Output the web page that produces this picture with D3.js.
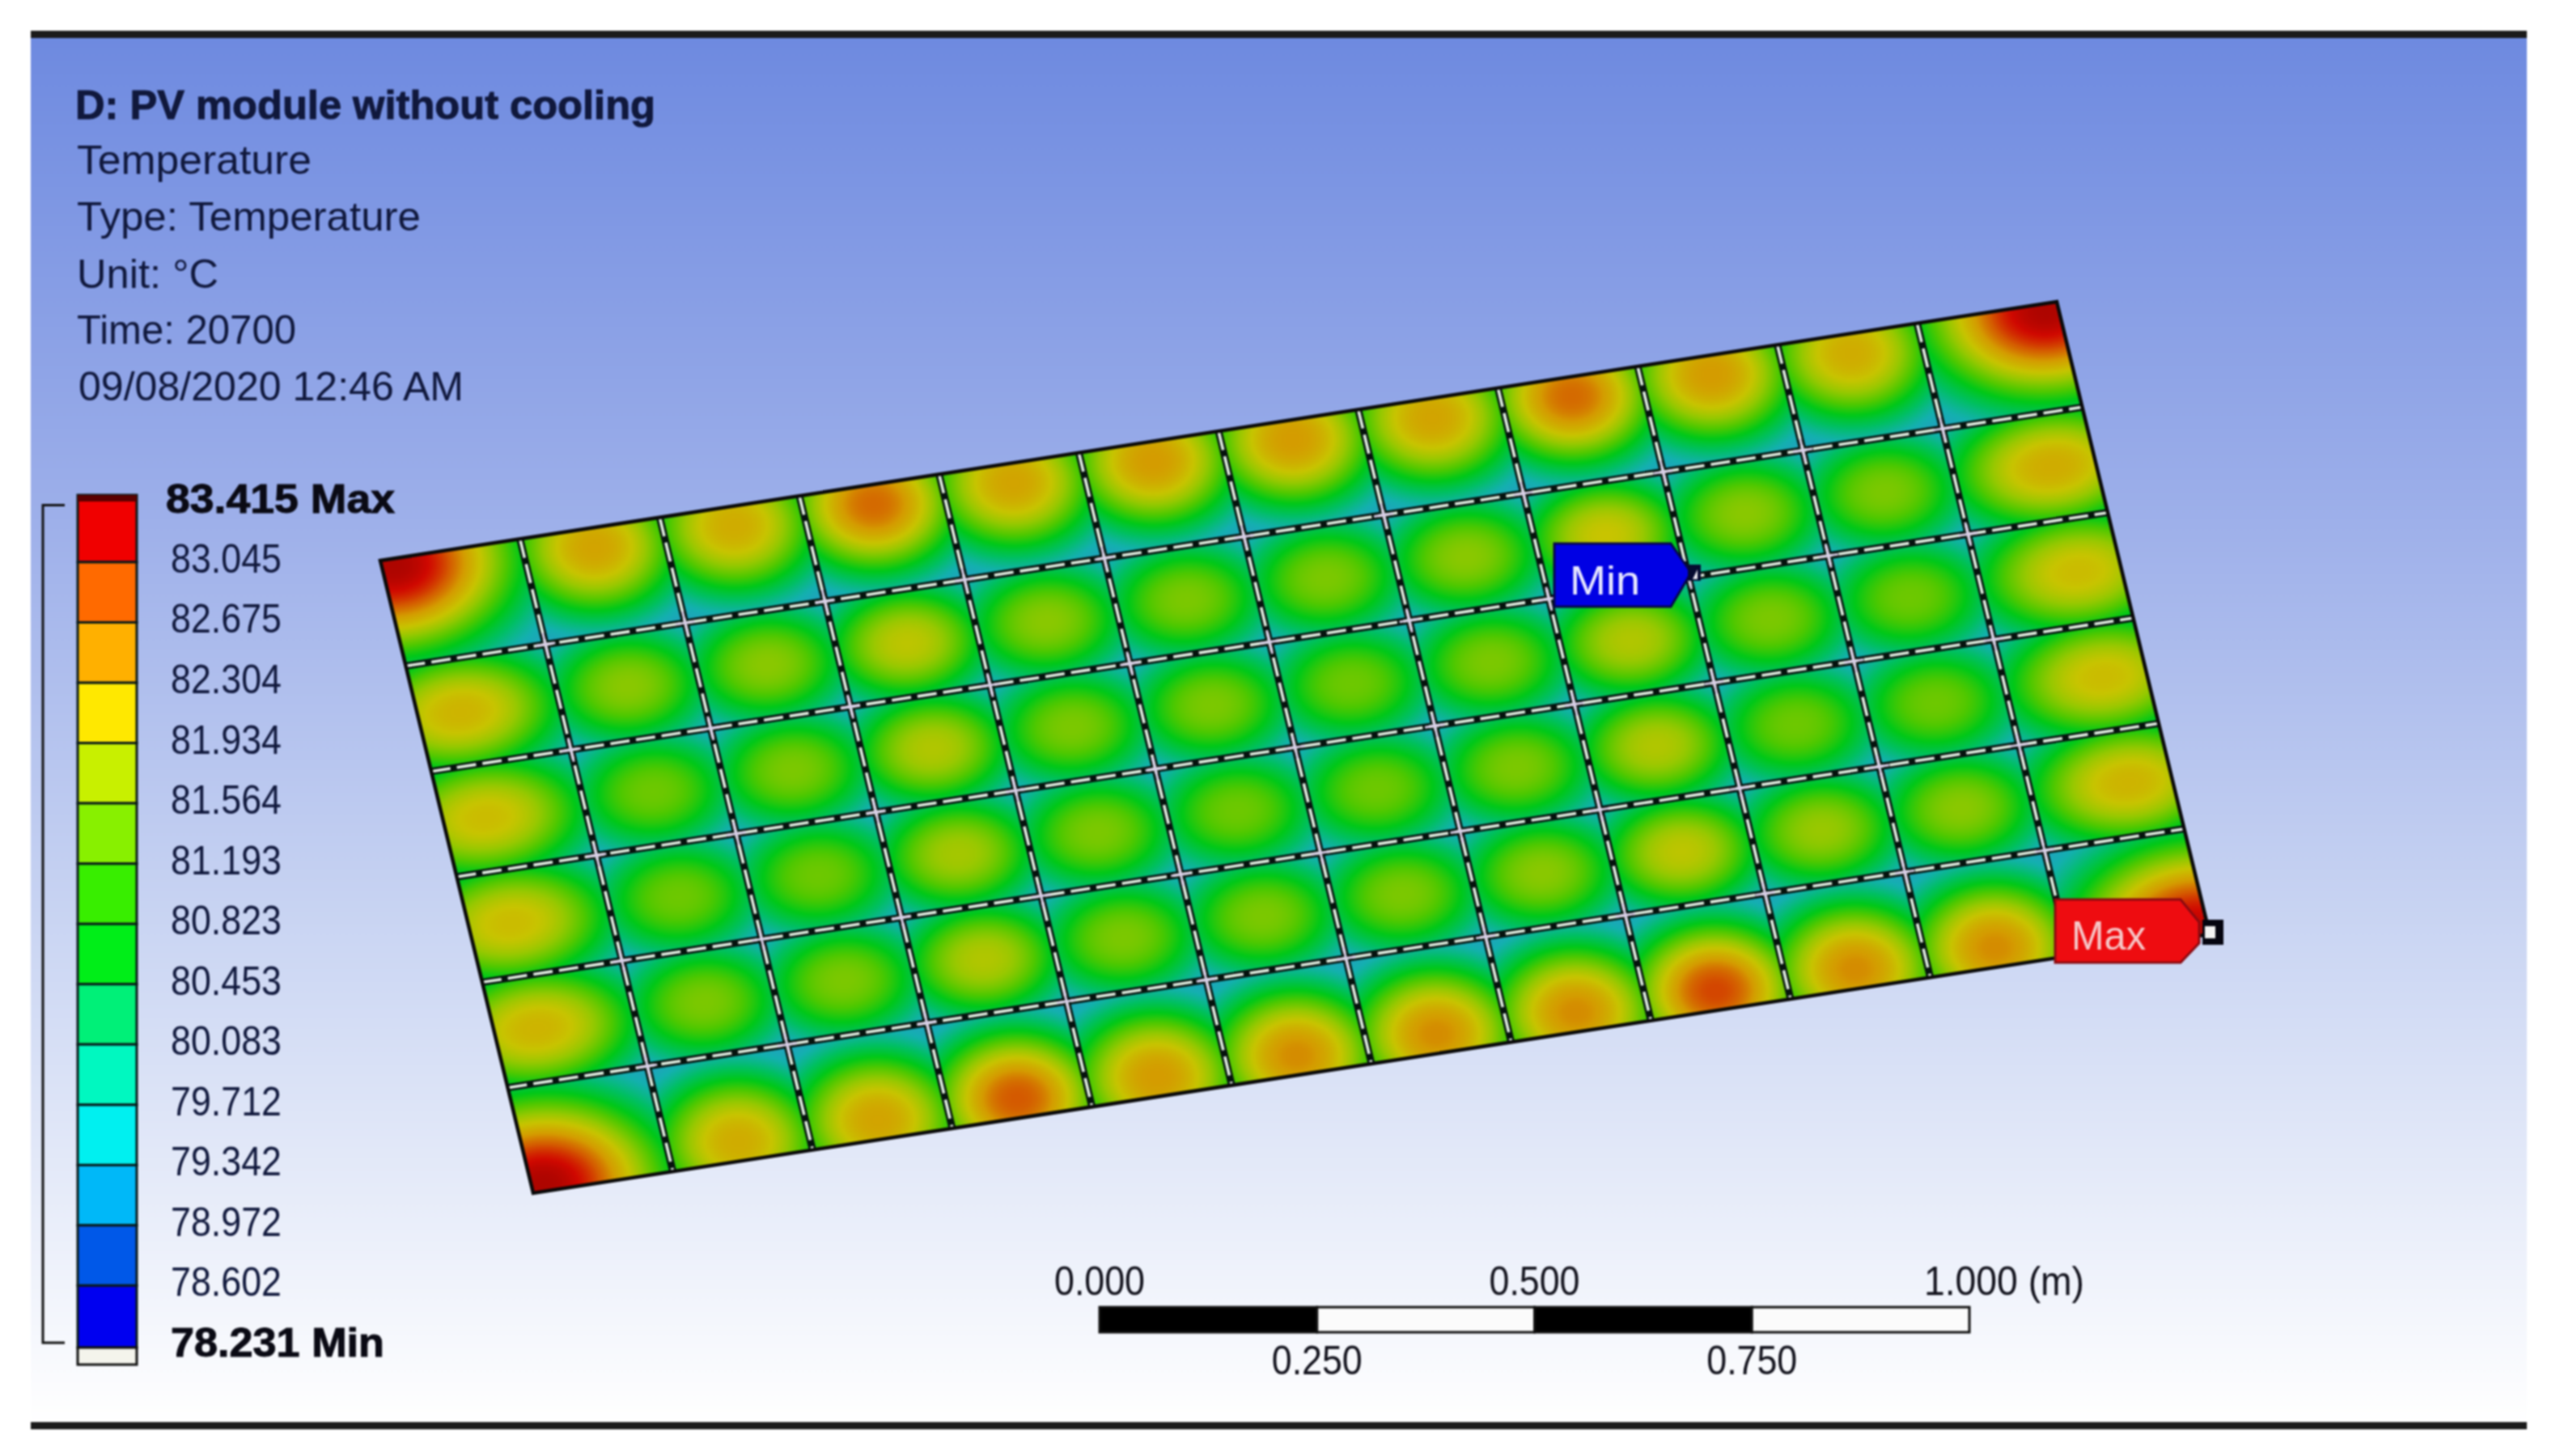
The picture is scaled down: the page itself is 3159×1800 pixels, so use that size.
<!DOCTYPE html>
<html><head><meta charset="utf-8">
<script src="https://cdn.jsdelivr.net/npm/d3@7"></script>
<style>html,body{margin:0;padding:0;background:#fff}svg{display:block;filter:blur(0.9px)}text{font-family:"Liberation Sans",Arial,sans-serif}</style>
</head><body><div id="chart"></div>
<script>
// ---- data ----
const headerLines = ["D: PV module without cooling","Temperature","Type: Temperature","Unit: °C","Time: 20700","09/08/2020 12:46 AM"];
const legendValues = [83.415,83.045,82.675,82.304,81.934,81.564,81.193,80.823,80.453,80.083,79.712,79.342,78.972,78.602,78.231];
const legendColors = ["#f00000","#ff6a00","#ffb000","#ffe800","#c8f000","#88f000","#38ee00","#00ee18","#00f078","#00f8c0","#00f0f0","#00b8f8","#0058e8","#0000f0"];
const scaleTicks = [0,0.25,0.5,0.75,1];
const scaleLabels = ["0.000","0.250","0.500","0.750","1.000"];
// peak temperature of each panel, top row first, 12 panels across
const panelPeaks = [
 [83.6,82.5,82.4,82.9,82.5,82.6,82.6,82.5,82.9,82.6,82.4,83.6],
 [82.3,81.6,81.6,82.0,81.6,81.5,81.5,81.6,82.1,81.6,81.5,82.4],
 [82.2,81.4,81.5,81.9,81.5,81.5,81.4,81.5,81.9,81.5,81.4,82.2],
 [82.2,81.4,81.4,81.8,81.5,81.4,81.4,81.5,81.9,81.4,81.4,82.2],
 [82.3,81.5,81.5,81.9,81.5,81.5,81.5,81.6,82.0,81.7,81.6,82.3],
 [83.6,82.4,82.5,83.0,82.6,82.7,82.7,82.7,83.1,82.7,82.7,83.5]
];
const fieldStops = [78.6,79.2,79.7,80.2,80.7,81.2,81.7,82.1,82.6,83.0,83.4,83.9];
const fieldColors = ["#2a70c8","#2a98c8","#14b0b0","#00c060","#00c818","#50c800","#98c800","#c8c400","#d49c00","#d45a00","#d00800","#7a0000"];
// ---- layout ----
const W=3159,H=1800,imgL=38,imgR=3123,barTop=38,barBot=1767,nCols=12,nRows=6;
const TL=[470,693],TR=[2542,373],BL=[659,1475];
const svg=d3.select("#chart").append("svg").attr("width",W).attr("height",H);
const defs=svg.append("defs");
const bg=defs.append("linearGradient").attr("id","bg").attr("x1",0).attr("x2",0).attr("y1",0).attr("y2",1);
bg.append("stop").attr("offset",0).attr("stop-color","rgb(110,138,224)");
bg.append("stop").attr("offset",0.35).attr("stop-color","rgb(158,176,234)");
bg.append("stop").attr("offset",0.65).attr("stop-color","rgb(203,214,243)");
bg.append("stop").attr("offset",1).attr("stop-color","#fff");
svg.append("rect").attr("x",imgL).attr("y",47).attr("width",imgR-imgL).attr("height",1711).attr("fill","url(#bg)");
svg.append("rect").attr("x",imgL).attr("y",barTop).attr("width",imgR-imgL).attr("height",9).attr("fill","#1b1b1b");
svg.append("rect").attr("x",imgL).attr("y",1758).attr("width",imgR-imgL).attr("height",9).attr("fill","#1b1b1b");

// header
const ink="#10183c";
const headY=[147,215,285,356,425,495],headW=[717,290,425,175,271,476],headX=[93,95,95,95,95,97];
svg.append("g").selectAll("text").data(headerLines).join("text")
 .attr("x",(d,i)=>headX[i]).attr("y",(d,i)=>headY[i])
 .attr("font-size",50).attr("font-weight",(d,i)=>i?400:700).attr("fill",ink)
 .attr("stroke",(d,i)=>i?"none":ink).attr("stroke-width",1)
 .attr("textLength",(d,i)=>headW[i]).attr("lengthAdjust","spacingAndGlyphs").text(d=>d);

// field
const uX=d3.scaleLinear([0,nCols],[0,TR[0]-TL[0]]),uY=d3.scaleLinear([0,nCols],[0,TR[1]-TL[1]]);
const vX=d3.scaleLinear([0,nRows],[0,BL[0]-TL[0]]),vY=d3.scaleLinear([0,nRows],[0,BL[1]-TL[1]]);
const px=(u,v)=>[TL[0]+uX(u)+vX(v),TL[1]+uY(u)+vY(v)];
const colour=d3.scaleLinear(fieldStops,fieldColors).clamp(true);
const lut=d3.range(1024).map(i=>d3.rgb(colour(78.5+i/1023*5.6)));
const x0=460,y0=365,x1=2745,y1=1485,res=2;
const cv=document.createElement("canvas");cv.width=Math.ceil((x1-x0)/res);cv.height=Math.ceil((y1-y0)/res);
const ctx=cv.getContext("2d"),im=ctx.createImageData(cv.width,cv.height);
const ax=uX(1),ay=uY(1),bx=vX(1),by=vY(1),det=ax*by-ay*bx;
const base=79.1;
for(let j=0;j<cv.height;j++)for(let i=0;i<cv.width;i++){
 const X=x0+(i+.5)*res-TL[0],Y=y0+(j+.5)*res-TL[1];
 const u=(X*by-Y*bx)/det,v=(Y*ax-X*ay)/det;
 if(u<0||v<0||u>=nCols||v>=nRows)continue;
 const c=Math.floor(u),r=Math.floor(v),du=u-c-.5,dv=v-r-.5;
 const eu=c==0?-1:c==nCols-1?1:0,ev=r==0?-1:r==nRows-1?1:0;
 let sx=0,sy=0,a=.52,b=.48,T;
 if(eu&&ev){sx=eu*.42;sy=ev*.44;a=.78;b=.74;}
 else if(ev){sy=ev*.32;a=.54;b=.58;}
 else if(eu){sx=eu*.2;a=.66;b=.52;}
 const d2=((du-sx)/a)**2+((dv-sy)/b)**2;
 T=base+(panelPeaks[r][c]-base)*Math.exp(-.72*Math.pow(d2,1.2));
 const col=lut[Math.max(0,Math.min(1023,Math.round((T-78.5)/5.6*1023)))],k=(j*cv.width+i)*4;
 im.data[k]=col.r;im.data[k+1]=col.g;im.data[k+2]=col.b;im.data[k+3]=255;
}
ctx.putImageData(im,0,0);
svg.append("image").attr("x",x0).attr("y",y0).attr("width",x1-x0).attr("height",y1-y0)
 .attr("preserveAspectRatio","none").attr("href",cv.toDataURL());

// panel joints
const line=d3.line();
const joints=[];
d3.range(1,nCols).forEach(c=>joints.push([px(c,0),px(c,nRows)]));
d3.range(1,nRows).forEach(r=>joints.push([px(0,r),px(nCols,r)]));
const gJ=svg.append("g").attr("fill","none");
gJ.selectAll(".o").data(joints).join("path").attr("d",line).attr("stroke","#06130e").attr("stroke-width",9);
gJ.selectAll(".i").data(joints).join("path").attr("d",line).attr("stroke","#e2efe2").attr("stroke-width",3.6).attr("stroke-dasharray","24 8");
// joint crossings
const crossings=d3.cross(d3.range(1,nCols),d3.range(1,nRows));
const gC=svg.append("g").attr("stroke","#d9cfe8").attr("stroke-width",3).attr("fill","none");
gC.selectAll("path").data(crossings).join("path").attr("d",([c,r])=>{
 const e=.07;return line([px(c-e,r),px(c+e,r)])+line([px(c,r-e*1.6),px(c,r+e*1.6)]);});
// outline
svg.append("path").attr("d",line([px(0,0),px(nCols,0),px(nCols,nRows),px(0,nRows)])+"Z").attr("fill","none").attr("stroke","#0a0a0a").attr("stroke-width",4.5);

// legend
const ly=d3.scaleLinear([83.415,78.231],[616.5,1660]);
const legendX=96,legendW=73,off=4;
const gL=svg.append("g");
const segs=legendColors.map((c,i)=>({c,top:i?ly(legendValues[i])+off:612,bot:ly(legendValues[i+1])+off+(i==13?2:0)}));
gL.selectAll("rect.s").data(segs).join("rect").attr("class","s").attr("x",legendX).attr("width",legendW)
 .attr("y",d=>d.top).attr("height",d=>d.bot-d.top).attr("fill",d=>d.c).attr("stroke","#0a1a1a").attr("stroke-width",3);
gL.append("rect").attr("x",legendX).attr("y",612).attr("width",legendW).attr("height",8).attr("fill","#5a0000");
gL.append("rect").attr("x",legendX).attr("y",1666).attr("width",legendW).attr("height",21).attr("fill","#f4f4ec").attr("stroke","#111").attr("stroke-width",3);
gL.append("path").attr("d",line([[80,ly(83.415)+8],[53,ly(83.415)+8],[53,ly(78.231)],[80,ly(78.231)]])).attr("fill","none").attr("stroke","#111").attr("stroke-width",3);
gL.selectAll("text").data(legendValues).join("text")
 .attr("x",(d,i)=>i==0?205:211).attr("y",d=>ly(d)+17).attr("font-size",50)
 .attr("font-weight",(d,i)=>(i==0||i==14)?700:400).attr("fill",(d,i)=>(i==0||i==14)?"#0a0a14":ink)
 .attr("stroke",(d,i)=>(i==0||i==14)?"#0a0a14":"none").attr("stroke-width",1)
 .attr("textLength",(d,i)=>i==0?283:i==14?264:137).attr("lengthAdjust","spacingAndGlyphs")
 .text((d,i)=>d.toFixed(3)+(i==0?" Max":i==14?" Min":""));

// probes
const gP=svg.append("g");
gP.append("path").attr("d","M1921,672H2065L2090,708L2065,750H1921Z").attr("fill","#0000e4").attr("stroke","#06064a").attr("stroke-width",3);
gP.append("rect").attr("x",2086).attr("y",698).attr("width",16).attr("height",20).attr("fill","#050a30");
gP.append("path").attr("d","M2092,716L2098,704L2098,716Z").attr("fill","#e8e8f0");
gP.append("text").attr("x",1940).attr("y",735).attr("font-size",50).attr("fill","#e8e8ff").attr("textLength",87).attr("lengthAdjust","spacingAndGlyphs").text("Min");
gP.append("path").attr("d","M2540,1112H2695L2718,1140L2718,1166L2695,1190H2540Z").attr("fill","#ee0c10").attr("stroke","#8a0a10").attr("stroke-width",3);
gP.append("rect").attr("x",2722).attr("y",1137).attr("width",26).attr("height",31).attr("fill","#050510");
gP.append("rect").attr("x",2725).attr("y",1145).attr("width",13).attr("height",15).attr("fill","#f2f2f2");
gP.append("text").attr("x",2560).attr("y",1174).attr("font-size",50).attr("fill","#f6c8c8").attr("textLength",92).attr("lengthAdjust","spacingAndGlyphs").text("Max");

// scale bar
const sb=d3.scaleLinear([0,1],[1359,2434]);
const gS=svg.append("g");
gS.selectAll("rect").data(d3.pairs(scaleTicks)).join("rect")
 .attr("x",d=>sb(d[0])).attr("y",1616).attr("width",d=>sb(d[1])-sb(d[0])).attr("height",31)
 .attr("fill",(d,i)=>i%2?"#fbfbfb":"#000").attr("stroke","#111").attr("stroke-width",3);
gS.selectAll("text").data(scaleTicks).join("text")
 .attr("x",d=>sb(d)).attr("y",(d,i)=>i%2?1699:1601).attr("text-anchor",(d,i)=>i==4?"start":"middle")
 .attr("dx",(d,i)=>i==4?-56:0)
 .attr("font-size",50).attr("fill","#12121c")
 .attr("textLength",(d,i)=>i==4?198:112).attr("lengthAdjust","spacingAndGlyphs")
 .text((d,i)=>scaleLabels[i]+(i==4?" (m)":""));
</script></body></html>
